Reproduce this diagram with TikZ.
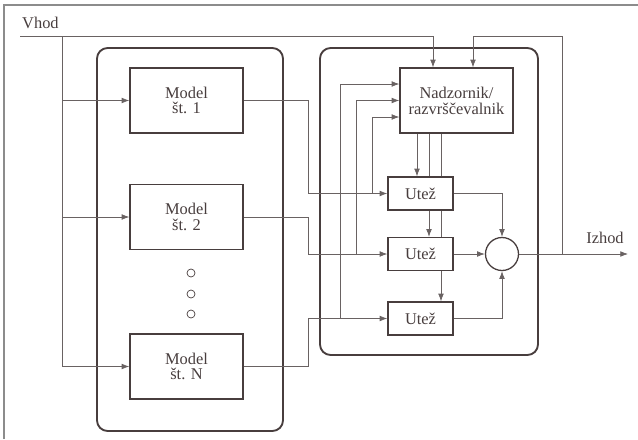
\documentclass[tikz,border=0pt]{standalone}
\usepackage{fontspec}
\setmainfont{Liberation Serif}
\usepackage{xcolor}
\usepackage{tikz}
\usetikzlibrary{
  arrows.meta,
  positioning,
  calc,
  backgrounds
}
\definecolor{LineDark}{RGB}{72, 62, 62}
\definecolor{LineMid}{RGB}{105, 98, 98}
\definecolor{FrameGray}{RGB}{140, 140, 140}
\tikzset{
    blockbox/.style={draw=LineDark, line width=1.1pt, fill=white, text=LineDark,
        minimum width=3.39cm, minimum height=1.95cm, align=center,
        font=\fontsize{14}{13.5}\selectfont},
    weightbox/.style={draw=LineDark, line width=1.1pt, fill=white, text=LineDark,
        minimum width=1.95cm, minimum height=0.99cm, font=\fontsize{14}{16}\selectfont},
    sumnode/.style={circle, draw=LineDark, line width=1.1pt, fill=white, minimum size=0.99cm, inner sep=0pt},
    groupbox/.style={draw=LineDark, line width=1.6pt, rounded corners=0.32cm},
    wire/.style={draw=LineMid, line width=0.6pt},
    arr/.style={wire, -{Latex[length=2.3mm, width=1.7mm]}},
    lbl/.style={text=LineDark, font=\fontsize{14}{16}\selectfont, inner sep=0pt}
}

\begin{document}
\begin{tikzpicture}[x=0.03cm, y=-0.03cm]
    \useasboundingbox (0,0) rectangle (638,439);
    % frame
    \draw[FrameGray, line width=1.2pt] (4,439) -- (4,5) -- (638,5);

    % groups
    \draw[groupbox] (97,48) rectangle (283,431);
    \draw[groupbox] (320,48) rectangle (538,355);

    % models
    \node[blockbox] (m1) at (186.5,100.5) {Model\\ št. 1};
    \node[blockbox] (m2) at (186.5,217) {Model\\ št. 2};
    \node[blockbox] (mN) at (186.5,366.5) {Model\\ št. N};
    \foreach \y in {273,294,314}
        \draw[LineDark, line width=0.6pt] (191,\y) circle (4);

    % supervisor and weights
    \node[blockbox] (nadz) at (456.5,100.5) {Nadzornik/\\ razvrščevalnik};
    \node[weightbox] (w1) at (420.5,193.5) {Utež};
    \node[weightbox] (w2) at (420.5,254) {Utež};
    \node[weightbox] (w3) at (420.5,318.5) {Utež};
    \node[sumnode] (sum) at (502,254) {};

    \node[lbl, anchor=base west] (vhod) at (22,28) {Vhod};
    \node[lbl, anchor=base] (izhod) at (605,243) {Izhod};

    \coordinate (vin) at (20,36);
    \coordinate (vb) at (62,36);
    \coordinate (vt) at (433,36);
    \coordinate (fb) at (562,36);
    \coordinate (out) at (628,254);
    \coordinate (bA) at (340,0);
    \coordinate (bB) at (356,0);
    \coordinate (bC) at (372,0);
    \coordinate (cA) at (417,0);
    \coordinate (cB) at (429,0);
    \coordinate (cC) at (441,0);

    % input
    \draw[arr] (vin) -- (vt) -- (vt |- nadz.north);
    \draw[arr] (vb) |- (m1.west);
    \draw[arr] (vb) |- (m2.west);
    \draw[arr] (vb) |- (mN.west);

    % model outputs
    \draw[arr] (m1.east) -- ++(65,0) |- (w1.west);
    \draw[arr] (m2.east) -- ++(65,0) |- (w2.west);
    \draw[arr] (mN.east) -- ++(65,0) |- (w3.west);
    \draw[arr] (w1.west -| bC) |- ($(nadz.west)+(0,16.5)$);
    \draw[arr] (w2.west -| bB) |- (nadz.west);
    \draw[arr] (w3.west -| bA) |- ($(nadz.west)+(0,-16.5)$);

    % supervisor to weights
    \begin{scope}[on background layer]
        \draw[arr] (nadz.south -| cA) -- (w1.north -| cA);
        \draw[arr] (nadz.south -| cB) -- (w2.north -| cB);
        \draw[arr] (nadz.south -| cC) -- (w3.north -| cC);
    \end{scope}

    % sum and output
    \draw[arr] (w1.east) -| (sum.north);
    \draw[arr] (w2.east) -- (sum.west);
    \draw[arr] (w3.east) -| (sum.south);
    \draw[arr] (sum.east) -- (out);
    \draw[arr] (sum.east -| fb) -- (fb) -| ($(nadz.north)+(16.5,0)$);
\end{tikzpicture}
\end{document}
